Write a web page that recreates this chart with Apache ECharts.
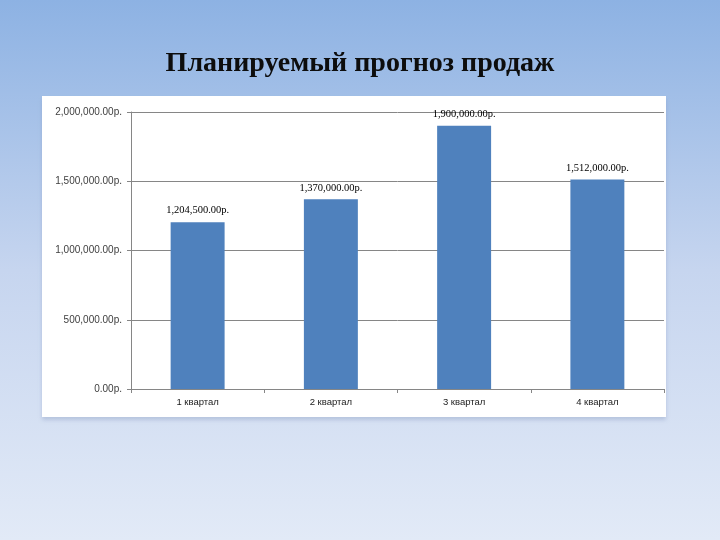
<!DOCTYPE html>
<html>
<head>
<meta charset="utf-8">
<script src="https://cdn.jsdelivr.net/npm/echarts@6/dist/echarts.min.js"></script>
<style>html,body{margin:0;padding:0;}#c{width:720px;height:540px;}</style>
</head>
<body>
<div id="c"></div>
<script>
var categories = ['1 квартал', '2 квартал', '3 квартал', '4 квартал'];
var sales = [1204500, 1370000, 1900000, 1512000];
var yTicks = [0, 500000, 1000000, 1500000, 2000000];

function rub(v) {
  return Number(v).toLocaleString('en-US', {minimumFractionDigits: 2, maximumFractionDigits: 2}) + 'р.';
}

var chart = echarts.init(document.getElementById('c'));
chart.setOption({
  animation: false,
  graphic: [
    {type: 'rect', z: -20, silent: true, shape: {x: 0, y: 0, width: 720, height: 540},
     style: {fill: new echarts.graphic.LinearGradient(0, 0, 0, 1, [
       {offset: 0, color: '#8db2e3'},
       {offset: 0.5, color: '#c6d5ef'},
       {offset: 1, color: '#e2eaf7'}
     ])}},
    {type: 'rect', z: -10, silent: true, shape: {x: 42, y: 96, width: 624, height: 321},
     style: {fill: '#ffffff', shadowBlur: 4, shadowOffsetY: 3, shadowColor: 'rgba(120,140,180,0.35)'}}
  ],
  title: {
    text: 'Планируемый прогноз продаж',
    left: 'center',
    top: 45,
    textStyle: {fontFamily: 'Liberation Serif', fontWeight: 'bold', fontSize: 28, color: '#0d0d0d'}
  },
  grid: {left: 131, right: 56, top: 112, bottom: 151},
  xAxis: {
    type: 'category',
    data: categories,
    axisLine: {lineStyle: {color: '#868686', width: 1}},
    axisTick: {show: true, length: 4, lineStyle: {color: '#868686'}},
    axisLabel: {fontFamily: 'Liberation Sans', fontSize: 9.5, color: '#1a1a1a', margin: 8}
  },
  yAxis: {
    type: 'value',
    min: yTicks[0],
    max: yTicks[yTicks.length - 1],
    interval: yTicks[1] - yTicks[0],
    axisLine: {show: true, lineStyle: {color: '#868686', width: 1}},
    axisTick: {show: true, length: 4, lineStyle: {color: '#868686'}},
    splitLine: {lineStyle: {color: '#868686', width: 1}},
    axisLabel: {fontFamily: 'Liberation Sans', fontSize: 10, color: '#404040', margin: 9, formatter: rub}
  },
  series: [{
    type: 'bar',
    data: sales,
    barWidth: '40.5%',
    itemStyle: {color: '#4f81bd'},
    label: {
      show: true,
      position: 'top',
      distance: 6,
      fontFamily: 'Liberation Serif',
      fontSize: 10.5,
      color: '#000000',
      formatter: function (p) { return rub(p.value); }
    }
  }]
});
</script>
</body>
</html>
